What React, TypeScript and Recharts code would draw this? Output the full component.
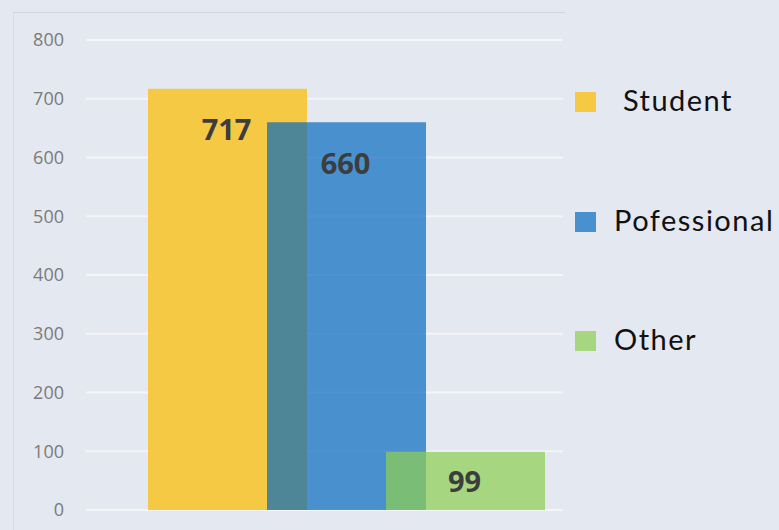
import { BarChart, Bar, XAxis, YAxis, CartesianGrid, LabelList, Legend } from 'recharts';

// survey respondents by group
const categories = ['Student', 'Pofessional', 'Other'];
const counts = [717, 660, 99];
const legendNames = [' Student', 'Pofessional', 'Other'];
const yTicks = [0, 100, 200, 300, 400, 500, 600, 700, 800];

const COLORS = ['#F5C944', '#0066BE', '#8DCF55'];
const OPACITY = [1, 0.68, 0.72];
const BG = '#E4E8F1';

const data = categories.map((name, i) => ({ name, value: counts[i] }));

// bars are wider than their category band, so neighbours overlap
const WideBar = (props: any) => {
  const { x, y, width, height, payload } = props;
  const i = categories.indexOf(payload?.name);
  const extra = 20;
  return (
    <rect
      x={x - extra}
      y={y}
      width={width + extra * 2}
      height={height}
      fill={COLORS[i]}
      fillOpacity={OPACITY[i]}
    />
  );
};

const ValueLabel = (props: any) => {
  const vb = props.viewBox || props;
  const { x, y, width, height } = vb;
  const dy = Math.min(40, height / 2);
  return (
    <text
      x={x + width / 2 - 1}
      y={y + dy}
      textAnchor="middle"
      dominantBaseline="central"
      fill="#3d3d3d"
      fontSize={29}
      fontWeight={700}
      fontFamily="'Open Sans', sans-serif"
    >
      {props.value}
    </text>
  );
};

const renderLegend = () => (
  <div>
    {legendNames.map((name, i) => (
      <div
        key={name}
        style={{ display: 'flex', alignItems: 'center', height: 28, marginBottom: 91.5 }}
      >
        <div style={{ width: 21, height: 20, background: COLORS[i], opacity: OPACITY[i], marginRight: 18 }} />
        <span
          style={{
            whiteSpace: 'pre',
            fontFamily: 'Lato, sans-serif',
            fontSize: 29,
            letterSpacing: 1.5,
            color: '#111',
            lineHeight: '28px',
            position: 'relative',
            top: -2,
          }}
        >
          {name}
        </span>
      </div>
    ))}
  </div>
);

export default function App() {
  return (
    <div
      style={{
        position: 'absolute',
        left: 0,
        top: 0,
        width: 779,
        height: 530,
        background: BG,
        overflow: 'hidden',
      }}
    >
      <div
        style={{
          position: 'absolute',
          left: 13,
          top: 12,
          width: 551,
          height: 530,
          borderTop: '1.5px solid #d2d5db',
          borderLeft: '1.5px solid #d8dbe0',
        }}
      />
      <BarChart
        width={779}
        height={530}
        data={data}
        margin={{ top: 40, right: 216, left: 0, bottom: 20 }}
        barCategoryGap={0}
        style={{ position: 'absolute', left: 0, top: 0 }}
      >
        <CartesianGrid vertical={false} stroke="#F3F5F8" strokeWidth={2} />
        <XAxis dataKey="name" hide padding={{ left: 82, right: 38 }} />
        <YAxis
          width={86}
          domain={[0, 800]}
          ticks={yTicks}
          axisLine={false}
          tickLine={false}
          tickSize={0}
          tickMargin={22}
          tick={{ fill: '#7b7b7b', fontSize: 18, fontFamily: "'Open Sans', sans-serif" }}
        />
        <Legend
          layout="vertical"
          align="center"
          verticalAlign="middle"
          content={renderLegend}
          wrapperStyle={{ position: 'absolute', left: 575, top: 88, width: 204 }}
        />
        <Bar dataKey="value" shape={WideBar} isAnimationActive={false}>
          <LabelList dataKey="value" content={ValueLabel} />
        </Bar>
      </BarChart>
    </div>
  );
}
